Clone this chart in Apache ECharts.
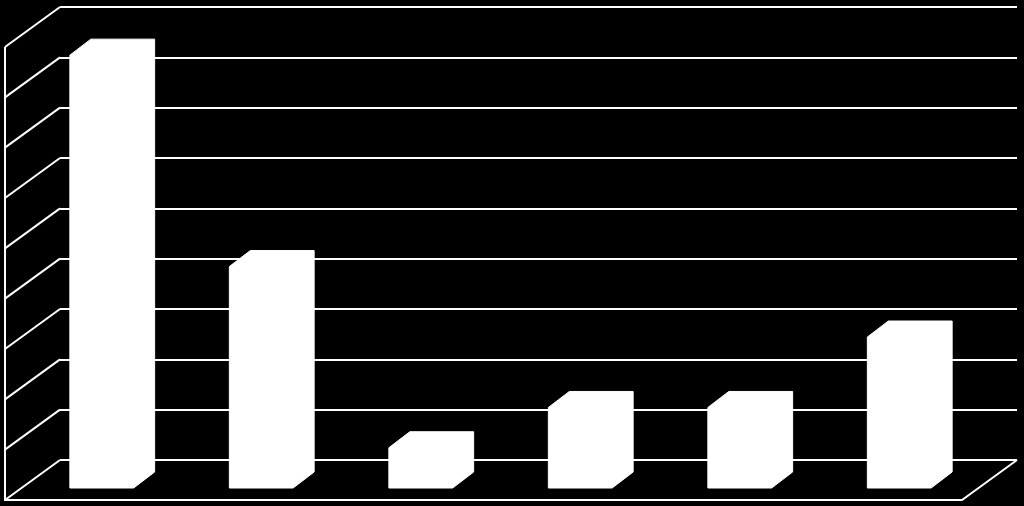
<!DOCTYPE html>
<html>
<head>
<meta charset="utf-8">
<script src="https://cdn.jsdelivr.net/npm/echarts@6/dist/echarts.min.js"></script>
<style>html,body{margin:0;padding:0;background:#000;}#c{width:1024px;height:506px;}</style>
</head>
<body>
<div id="c"></div>
<script>
var categories = ['1', '2', '3', '4', '5', '6'];
var values = [8.6, 4.4, 0.8, 1.6, 1.6, 3.0];
var tickValues = [0, 1, 2, 3, 4, 5, 6, 7, 8, 9];

// oblique projection constants (pixels)
var WALL_DX = 55, WALL_DY = 40;      // depth of side wall / floor
var BAR_BACK_DX = -17, BAR_BACK_DY = 12; // bar back face offset from back wall
var BAR_DEPTH_DX = 21, BAR_DEPTH_DY = 16; // bar depth
var LINE = '#ffffff';

var chart = echarts.init(document.getElementById('c'));
chart.setOption({
  backgroundColor: '#000000',
  animation: false,
  grid: { left: 60, right: 7, top: 7, bottom: 46, containLabel: false },
  xAxis: {
    type: 'category', data: categories,
    axisLine: { show: false }, axisTick: { show: false }, axisLabel: { show: false }
  },
  yAxis: {
    type: 'value', min: 0, max: 9, interval: 1,
    axisLine: { show: false }, axisTick: { show: false }, axisLabel: { show: false },
    splitLine: { show: true, lineStyle: { color: LINE, width: 2 } }
  },
  series: [
    {
      type: 'custom', clip: false, silent: true, z: 1,
      data: tickValues.map(function (v) { return [0, v]; }),
      renderItem: function (params, api) {
        var p = api.coord([0, api.value(1)]);
        var x0 = params.coordSys.x;
        var children = [{
          type: 'line',
          shape: { x1: x0, y1: p[1], x2: x0 - WALL_DX, y2: p[1] + WALL_DY },
          style: { stroke: LINE, lineWidth: 2 }
        }];
        if (api.value(1) === 0) {
          var top = api.coord([0, tickValues[tickValues.length - 1]]);
          var xr = params.coordSys.x + params.coordSys.width;
          children.push({
            type: 'polyline',
            shape: { points: [
              [x0 - WALL_DX, top[1] + WALL_DY],
              [x0 - WALL_DX, p[1] + WALL_DY],
              [xr - WALL_DX, p[1] + WALL_DY],
              [xr, p[1]]
            ] },
            style: { stroke: LINE, lineWidth: 2, fill: null }
          });
        }
        return { type: 'group', children: children };
      }
    },
    {
      type: 'custom', clip: false, z: 2,
      data: values.map(function (v, i) { return [i, v]; }),
      renderItem: function (params, api) {
        var i = api.value(0), v = api.value(1);
        var base = api.coord([i, 0]);
        var top = api.coord([i, v]);
        var band = api.size([1, 0])[0];
        var w = band * 0.40;
        var bx = base[0] - w / 2 + BAR_BACK_DX; // back face left
        var fx = bx - BAR_DEPTH_DX;              // front face left
        var fb = base[1] + BAR_BACK_DY + BAR_DEPTH_DY;
        var ft = top[1] + BAR_BACK_DY + BAR_DEPTH_DY;
        var pts = [
          [fx, fb], [fx, ft],
          [fx + BAR_DEPTH_DX, ft - BAR_DEPTH_DY],
          [fx + w + BAR_DEPTH_DX, ft - BAR_DEPTH_DY],
          [fx + w + BAR_DEPTH_DX, fb - BAR_DEPTH_DY],
          [fx + w, fb]
        ];
        return {
          type: 'polygon',
          shape: { points: pts },
          style: { fill: '#ffffff', stroke: '#ffffff', lineWidth: 1 }
        };
      }
    }
  ]
});
</script>
</body>
</html>
